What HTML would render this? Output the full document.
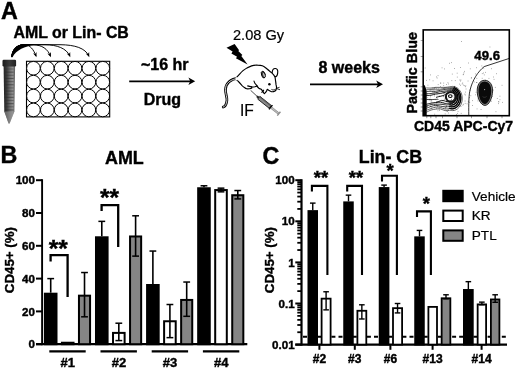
<!DOCTYPE html><html><head><meta charset="utf-8"><title>Figure</title><style>html,body{margin:0;padding:0;background:#fff}svg{display:block}text{font-family:"Liberation Sans",sans-serif;fill:#000;stroke:#000;stroke-width:0.2px}.b{font-weight:bold;stroke-width:0.4px}svg{will-change:transform;filter:blur(0.35px)}</style></head><body>
<svg width="520" height="369" viewBox="0 0 520 369">
<defs><linearGradient id="tg" x1="0" x2="1" y1="0" y2="0"><stop offset="0" stop-color="#222"/><stop offset="0.3" stop-color="#404040"/><stop offset="0.55" stop-color="#707070"/><stop offset="0.8" stop-color="#909090"/><stop offset="1" stop-color="#5a5a5a"/></linearGradient>
<linearGradient id="cg" x1="0" x2="1" y1="0" y2="0"><stop offset="0" stop-color="#1a1a1a"/><stop offset="0.5" stop-color="#3a3a3a"/><stop offset="1" stop-color="#222"/></linearGradient></defs>
<rect width="520" height="369" fill="#fff"/>
<text class="b" x="1" y="19.4" font-size="23.3">A</text>
<text class="b" x="0.5" y="163" font-size="23.3">B</text>
<text class="b" x="262.5" y="163.5" font-size="23.3">C</text>
<text class="b" x="13.5" y="37.8" font-size="15.9">AML or Lin- CB</text>
<g>
<path d="M3.6,66 L15.1,66 L14.4,111.5 L9.6,123.6 L8.6,123.6 L4.3,111.5 Z" fill="url(#tg)"/>
<path d="M4.3,111.5 L14.4,111.5 L9.6,123.6 L8.6,123.6 Z" fill="#999" opacity="0.55"/>
<line x1="5.2" x2="13.6" y1="69.00" y2="69.00" stroke="#2a2a2a" stroke-width="1.1" opacity="0.4"/>
<line x1="5.2" x2="13.6" y1="72.15" y2="72.15" stroke="#2a2a2a" stroke-width="1.1" opacity="0.55"/>
<line x1="5.2" x2="13.6" y1="75.30" y2="75.30" stroke="#2a2a2a" stroke-width="1.1" opacity="0.4"/>
<line x1="5.2" x2="13.6" y1="78.45" y2="78.45" stroke="#2a2a2a" stroke-width="1.1" opacity="0.55"/>
<line x1="5.2" x2="13.6" y1="81.60" y2="81.60" stroke="#2a2a2a" stroke-width="1.1" opacity="0.4"/>
<line x1="5.2" x2="13.6" y1="84.75" y2="84.75" stroke="#2a2a2a" stroke-width="1.1" opacity="0.55"/>
<line x1="5.2" x2="13.6" y1="87.90" y2="87.90" stroke="#2a2a2a" stroke-width="1.1" opacity="0.4"/>
<line x1="5.2" x2="13.6" y1="91.05" y2="91.05" stroke="#2a2a2a" stroke-width="1.1" opacity="0.55"/>
<line x1="5.2" x2="13.6" y1="94.20" y2="94.20" stroke="#2a2a2a" stroke-width="1.1" opacity="0.4"/>
<line x1="5.2" x2="13.6" y1="97.35" y2="97.35" stroke="#2a2a2a" stroke-width="1.1" opacity="0.55"/>
<line x1="5.2" x2="13.6" y1="100.50" y2="100.50" stroke="#2a2a2a" stroke-width="1.1" opacity="0.4"/>
<line x1="5.2" x2="13.6" y1="103.65" y2="103.65" stroke="#2a2a2a" stroke-width="1.1" opacity="0.55"/>
<line x1="5.2" x2="13.6" y1="106.80" y2="106.80" stroke="#2a2a2a" stroke-width="1.1" opacity="0.4"/>
<line x1="5.2" x2="13.6" y1="109.95" y2="109.95" stroke="#2a2a2a" stroke-width="1.1" opacity="0.55"/>
<rect x="2.5" y="59.8" width="13.6" height="6.6" rx="1.2" fill="url(#cg)"/>
</g>
<rect x="26.5" y="61.3" width="83.2" height="55.6" fill="#fff" stroke="#000" stroke-width="1.1"/>
<circle cx="33.43" cy="68.25" r="6.83" fill="#fff" stroke="#000" stroke-width="1"/>
<circle cx="47.30" cy="68.25" r="6.83" fill="#fff" stroke="#000" stroke-width="1"/>
<circle cx="61.17" cy="68.25" r="6.83" fill="#fff" stroke="#000" stroke-width="1"/>
<circle cx="75.03" cy="68.25" r="6.83" fill="#fff" stroke="#000" stroke-width="1"/>
<circle cx="88.90" cy="68.25" r="6.83" fill="#fff" stroke="#000" stroke-width="1"/>
<circle cx="102.77" cy="68.25" r="6.83" fill="#fff" stroke="#000" stroke-width="1"/>
<circle cx="33.43" cy="82.15" r="6.83" fill="#fff" stroke="#000" stroke-width="1"/>
<circle cx="47.30" cy="82.15" r="6.83" fill="#fff" stroke="#000" stroke-width="1"/>
<circle cx="61.17" cy="82.15" r="6.83" fill="#fff" stroke="#000" stroke-width="1"/>
<circle cx="75.03" cy="82.15" r="6.83" fill="#fff" stroke="#000" stroke-width="1"/>
<circle cx="88.90" cy="82.15" r="6.83" fill="#fff" stroke="#000" stroke-width="1"/>
<circle cx="102.77" cy="82.15" r="6.83" fill="#fff" stroke="#000" stroke-width="1"/>
<circle cx="33.43" cy="96.05" r="6.83" fill="#fff" stroke="#000" stroke-width="1"/>
<circle cx="47.30" cy="96.05" r="6.83" fill="#fff" stroke="#000" stroke-width="1"/>
<circle cx="61.17" cy="96.05" r="6.83" fill="#fff" stroke="#000" stroke-width="1"/>
<circle cx="75.03" cy="96.05" r="6.83" fill="#fff" stroke="#000" stroke-width="1"/>
<circle cx="88.90" cy="96.05" r="6.83" fill="#fff" stroke="#000" stroke-width="1"/>
<circle cx="102.77" cy="96.05" r="6.83" fill="#fff" stroke="#000" stroke-width="1"/>
<circle cx="33.43" cy="109.95" r="6.83" fill="#fff" stroke="#000" stroke-width="1"/>
<circle cx="47.30" cy="109.95" r="6.83" fill="#fff" stroke="#000" stroke-width="1"/>
<circle cx="61.17" cy="109.95" r="6.83" fill="#fff" stroke="#000" stroke-width="1"/>
<circle cx="75.03" cy="109.95" r="6.83" fill="#fff" stroke="#000" stroke-width="1"/>
<circle cx="88.90" cy="109.95" r="6.83" fill="#fff" stroke="#000" stroke-width="1"/>
<circle cx="102.77" cy="109.95" r="6.83" fill="#fff" stroke="#000" stroke-width="1"/>
<path d="M11.7,56.9 C12.6,50 16,44.9 24,44.7 L25,44.7 C30,44.9 33.6,49.5 36,56" fill="none" stroke="#000" stroke-width="0.95"/>
<path d="M36.45,57.22 L33.01,53.37 L35.24,53.94 L36.57,52.06 Z" fill="#000"/>
<path d="M11.7,56.9 C12.6,50 16,44.9 24,44.7 L33,44.7 C42,44.9 47.8,49 50.4,56" fill="none" stroke="#000" stroke-width="0.95"/>
<path d="M50.85,57.22 L47.40,53.38 L49.63,53.94 L50.96,52.06 Z" fill="#000"/>
<path d="M11.7,56.9 C12.6,50 16,44.9 24,44.7 L45,44.7 C57,44.8 66.6,48.4 69.8,56" fill="none" stroke="#000" stroke-width="0.95"/>
<path d="M70.30,57.20 L66.69,53.51 L68.95,53.97 L70.19,52.04 Z" fill="#000"/>
<path d="M11.7,56.9 C12.6,50 16,44.9 24,44.7 L60,44.7 C75,44.8 85.4,48.2 88.8,56" fill="none" stroke="#000" stroke-width="0.95"/>
<path d="M89.32,57.19 L85.66,53.55 L87.92,53.98 L89.14,52.03 Z" fill="#000"/>
<path d="M11.2,57.2 C12,49.8 15.6,44.5 24,44.25 L34,44.25 L34,45.1 C25,46.4 16.4,50 12.5,57.2 Z" fill="#000"/>
<text class="b" x="141" y="69.9" font-size="16">~16 hr</text>
<text class="b" x="143.8" y="104.6" font-size="16">Drug</text>
<line x1="129.2" x2="191" y1="81.3" y2="81.3" stroke="#000" stroke-width="1.8"/>
<path d="M195.2,81.3 L188.4,77.6 L190.2,81.3 L188.4,85 Z" fill="#000"/>
<text class="b" x="318.5" y="72.9" font-size="16">8 weeks</text>
<line x1="310" x2="379" y1="84.3" y2="84.3" stroke="#000" stroke-width="1.8"/>
<path d="M383,84.3 L376.2,80.6 L378,84.3 L376.2,88 Z" fill="#000"/>
<text x="233" y="39.9" font-size="14.6">2.08 Gy</text>
<text x="240" y="115.9" font-size="15.6">IF</text>
<polygon points="226.5,47.7 234.6,44.1 239.1,50.2 238.3,51 242.4,55 241.3,55.9 247.6,64.4 235.9,58.3 237.1,56.7 231.4,53.4 232.6,51.4" fill="#000"/>
<g fill="none" stroke="#000" stroke-width="1.15" stroke-linecap="round" stroke-linejoin="round">
<path d="M238.9,78.4 C236,78.3 231.5,79.6 228.75,82.1 C226.6,84.2 225.5,86 225.5,89.5 C225.3,94 227.4,97.5 226.9,100.6 C226.6,102.8 226,104.6 225.4,105.4 C224.8,106.3 224,106.8 223.2,107.1" stroke-width="2.7"/>
<path d="M238.9,78.4 C236,78.3 231.5,79.6 228.75,82.1 C226.6,84.2 225.5,86 225.5,89.5 C225.3,94 227.4,97.5 226.9,100.6 C226.6,102.8 226,104.6 225.4,105.4 C224.8,106.3 224,106.8 223.2,107.1" stroke="#fff" stroke-width="0.8"/>
<ellipse cx="274.9" cy="72.7" rx="2.8" ry="4.2" transform="rotate(8 274.9 72.7)" fill="#fff"/>
<path d="M236.2,77.6 C238.6,75.6 240.6,72.6 243,70.6 C245.2,68.8 248,67.2 251.6,65.9 C253.6,65.2 255.6,65 257.5,65.1 C259.3,65.1 261,65.2 262.3,65.7 C263.8,66.3 265,67.3 266.3,68.3 C267.4,69.2 268.2,70 269.2,70.7 C270,71.3 270.8,72 271.8,72.9 C273,74 274.5,75.6 275,77.1 C275.3,78.3 275.4,79.4 275.5,80.5 C275.7,81.8 275.9,83 276,84.4 C276.2,85.6 276.7,87 276.5,88.3 C276.3,89.6 275.6,90.8 274.6,91.3 C273.6,91.8 272.6,91.9 271.6,91.7 C270.6,91.4 269.6,90.8 268.7,90.3 L267.2,89.3 C266.9,90.4 266.4,91.4 265.8,92.2 C265.3,92.9 264.8,93.5 264.3,93.7 C263.6,93 263.2,92.2 262.8,91.3 C262.3,90.6 261.9,90 261.4,89.3 C260.5,89.1 259.7,88.8 258.9,88.3 C258.1,87.6 257.5,86.8 257,85.9 C256.3,86.3 255.6,86.6 254.8,86.8 C253.8,87 252.6,87 251.4,86.9 C251.8,87.4 251.9,87.9 251.6,88.3 C250,88.7 248.3,88.9 246.7,88.8 C246,88.6 245.4,88.3 244.8,87.8 C243.6,87 242.7,86.2 241.8,85.4 C240.8,84.2 239.9,83 238.9,82 C238,81 237,80.2 236.2,79.8 Z" fill="#fff"/>
<path d="M235.4,77.6 L237.4,77 L237.4,80.6 L235.4,80 Z" fill="#fff" stroke="none"/>
<path d="M254,81 C254.2,82 254.6,82.8 255,83.4 C255.8,84.3 256.4,85.2 257,85.9"/>
<path d="M247.7,85.9 C248.9,86.4 250.1,86.7 251.4,86.9"/>
<path d="M263.6,90.2 C263.2,91 262.6,91.8 261.9,92.3"/>
<path d="M271.8,89.6 C272.8,90.2 274.2,90 275.2,89.4" stroke-width="0.9"/>
<ellipse cx="263.3" cy="74.6" rx="1.8" ry="3.5" transform="rotate(-16 263.3 74.6)" fill="#444" stroke-width="0.9"/>
<ellipse cx="264" cy="75" rx="0.6" ry="2.1" transform="rotate(-16 264 75)" fill="#ddd" stroke="none"/>
<path d="M276.6,88.2 L279.2,87.4 M276.6,88.6 L279.6,89.6" stroke-width="0.8"/>
</g>
<circle cx="269.4" cy="84.3" r="1.25" fill="#000"/>
<g>
<line x1="250.6" y1="90.3" x2="257.2" y2="96.4" stroke="#000" stroke-width="0.7"/>
<g transform="translate(256.9,96.25) rotate(38.5)">
<rect x="0" y="-1.1" width="2.6" height="2.2" fill="#222"/>
<rect x="2.4" y="-1.75" width="14.6" height="3.5" fill="#8a8a8a" stroke="#111" stroke-width="0.8"/>
<rect x="2.4" y="-1.75" width="14.6" height="1.2" fill="#555" opacity="0.7"/>
<rect x="17" y="-2.7" width="1.4" height="5.4" fill="#000"/>
<rect x="18.4" y="-0.9" width="9" height="1.8" fill="#bbb" stroke="#555" stroke-width="0.4"/>
<rect x="27.4" y="-2.5" width="1.3" height="5" fill="#888"/>
</g></g>
<g>
<path d="M442.7,102.6h.7M443.1,93.5h.7M433.9,94.7h.7M460.5,101.7h.7M459.5,99.7h.7M451.1,99.0h.7M424.3,106.4h.7M452.6,102.5h.7M434.4,91.8h.7M450.0,96.5h.7M452.8,89.9h.7M450.0,101.3h.7M453.2,110.2h.7M437.9,88.9h.7M441.5,95.8h.7M454.2,99.7h.7M440.2,86.5h.7M439.2,110.4h.7M435.5,99.7h.7M451.5,80.6h.7M446.6,111.4h.7M444.6,88.0h.7M452.5,96.3h.7M427.0,106.1h.7M454.7,107.4h.7M464.7,101.0h.7M447.6,82.7h.7M454.0,90.3h.7M440.1,83.1h.7M433.4,91.2h.7M462.8,74.7h.7M427.0,99.6h.7M464.8,103.4h.7M450.6,88.9h.7M431.4,107.8h.7M460.3,98.7h.7M449.2,101.8h.7M466.7,103.8h.7M452.7,103.0h.7M425.6,111.1h.7M458.4,102.8h.7M456.9,77.1h.7M443.6,108.2h.7M453.2,95.3h.7M450.2,104.1h.7M447.6,109.6h.7M437.4,92.4h.7M459.5,97.3h.7M434.6,107.4h.7M465.1,92.1h.7M428.1,95.5h.7M444.1,93.7h.7M464.3,85.7h.7M462.4,83.0h.7M435.8,103.9h.7M460.7,106.4h.7M450.5,98.6h.7M448.0,103.3h.7M443.7,100.1h.7M453.4,97.0h.7M455.9,103.2h.7M472.1,100.6h.7M440.4,92.9h.7M445.8,107.2h.7M441.6,101.2h.7M469.9,68.8h.7M431.4,99.7h.7M451.2,99.6h.7M440.4,104.2h.7M449.7,91.3h.7M477.6,100.9h.7M438.8,95.9h.7M443.1,96.3h.7M459.1,84.1h.7M445.1,107.5h.7M457.1,113.4h.7M441.6,103.9h.7M460.2,67.5h.7M460.2,81.1h.7M454.9,80.6h.7M448.3,110.1h.7M444.1,99.1h.7M456.4,98.6h.7M444.8,113.9h.7M459.6,93.8h.7M481.7,84.4h.7M457.9,94.1h.7M447.7,104.8h.7M448.9,104.0h.7M426.1,80.4h.7M454.0,86.4h.7M432.7,80.8h.7M462.5,105.2h.7M465.1,86.7h.7M446.0,84.5h.7M456.0,114.5h.7M434.4,114.2h.7M458.8,95.0h.7M444.7,90.4h.7M451.2,101.5h.7M465.5,85.8h.7M460.8,113.4h.7M464.9,95.0h.7M436.3,108.2h.7M447.5,98.4h.7M464.5,94.1h.7M450.1,90.3h.7M445.9,106.2h.7M447.0,111.6h.7M445.2,108.4h.7M437.3,106.7h.7M430.0,96.9h.7M443.5,96.7h.7M438.3,99.6h.7M469.3,97.5h.7M452.9,108.0h.7M443.4,83.1h.7M438.8,108.8h.7M424.6,90.4h.7M459.1,105.7h.7M446.1,105.9h.7M448.2,84.0h.7M425.7,90.0h.7M458.0,90.8h.7M434.3,88.5h.7M426.1,95.7h.7M430.7,101.0h.7M437.7,75.6h.7M455.4,94.0h.7M449.8,92.0h.7M456.1,105.2h.7M454.7,100.6h.7M463.3,104.3h.7M451.9,74.1h.7M457.7,111.4h.7M442.1,91.8h.7M471.2,77.7h.7M433.9,104.6h.7M470.5,95.7h.7M453.3,106.9h.7M434.2,96.0h.7M449.8,106.1h.7M445.6,94.9h.7M432.8,93.1h.7M457.6,98.1h.7M434.9,87.7h.7M480.7,109.5h.7M454.3,68.5h.7M454.1,102.3h.7M467.9,101.7h.7M484.5,96.3h.7M469.4,102.4h.7M487.6,81.6h.7M495.6,111.7h.7M473.8,82.0h.7M487.3,92.2h.7M481.8,78.3h.7M502.0,102.4h.7M475.4,73.9h.7M498.6,101.9h.7M499.6,99.7h.7M478.0,93.1h.7M467.7,81.0h.7M484.5,96.3h.7M479.2,88.5h.7M488.7,94.5h.7M490.1,92.5h.7M482.4,99.5h.7M485.4,80.1h.7M480.0,90.0h.7M484.1,91.9h.7M485.0,92.1h.7M483.9,74.9h.7M488.4,102.6h.7M488.5,87.7h.7M488.6,78.4h.7M469.8,90.7h.7M477.6,98.9h.7M476.3,58.5h.7M476.7,108.9h.7M481.9,73.6h.7M478.9,96.3h.7M489.0,92.1h.7M496.9,98.5h.7M484.8,97.2h.7M498.2,101.7h.7M493.2,77.0h.7M483.8,98.8h.7M482.6,102.8h.7M489.8,100.9h.7M494.9,87.4h.7M482.3,100.5h.7M492.8,90.1h.7M475.7,92.3h.7M487.9,103.6h.7M491.3,90.3h.7M491.8,96.5h.7M486.6,90.7h.7M483.1,98.2h.7M476.6,82.5h.7M485.0,72.4h.7M481.5,65.9h.7M479.5,96.8h.7M489.5,89.3h.7M483.1,73.0h.7M499.6,96.2h.7M493.7,79.4h.7M483.5,68.2h.7M491.2,101.2h.7M469.8,89.4h.7M478.9,56.8h.7M424.8,68.0h.7M451.2,62.6h.7M465.7,89.0h.7M478.9,96.2h.7M498.1,103.6h.7M436.1,76.9h.7M441.7,67.8h.7M463.2,85.1h.7M475.8,59.6h.7M437.8,84.6h.7M460.6,80.0h.7M463.6,72.8h.7M480.4,90.7h.7M463.1,74.2h.7M461.2,41.5h.7M443.4,85.6h.7M431.9,88.2h.7M468.2,63.0h.7M459.5,80.0h.7M475.1,94.8h.7M464.2,71.4h.7M461.8,84.0h.7M481.2,89.7h.7M449.1,63.3h.7M456.8,73.2h.7M440.5,83.1h.7M454.2,86.7h.7M476.5,78.4h.7M489.2,86.9h.7M489.6,47.0h.7M448.5,89.0h.7M472.1,105.5h.7M481.9,100.2h.7M476.2,82.5h.7M476.2,67.7h.7M491.0,68.7h.7M460.1,85.3h.7M490.6,85.4h.7M447.2,89.1h.7M477.8,96.4h.7M448.0,113.0h.7M501.7,85.3h.7M470.9,78.1h.7M496.1,73.7h.7M433.4,88.3h.7M426.5,105.1h.7M436.7,94.9h.7M426.6,106.4h.7M429.8,99.3h.7M437.6,110.8h.7M430.0,106.0h.7M426.8,94.4h.7M436.8,78.0h.7M435.9,88.6h.7M429.7,90.6h.7M429.4,79.8h.7M430.1,74.9h.7M429.6,99.3h.7M432.3,91.8h.7M425.5,97.2h.7M433.8,93.4h.7M427.6,85.2h.7M425.3,90.1h.7M431.5,102.2h.7M426.5,95.2h.7M444.0,68.9h.7M427.4,97.4h.7M430.8,100.7h.7M428.8,100.1h.7" stroke="#000" stroke-width="0.75" opacity="0.6" fill="none"/>
<path d="M423.2,84.8 L424.4,85 C425.8,87 426.59999999999997,90 426.7,93 L426.7,115.7 L423.2,115.7 Z" fill="#000"/>
<g fill="none" stroke="#000" stroke-linejoin="round">
<path d="M426.30,87.90 C427.08,87.93 429.44,88.15 431.01,88.06 C432.58,87.97 434.15,87.47 435.72,87.36 C437.28,87.25 438.85,87.40 440.42,87.40 C441.99,87.40 443.56,87.48 445.13,87.38 C446.70,87.28 448.63,86.98 449.84,86.81 C451.05,86.65 451.55,86.40 452.40,86.40 C453.25,86.40 454.14,86.54 454.96,86.81 C455.79,87.08 456.61,87.50 457.35,88.02 C458.09,88.54 458.80,89.21 459.40,89.94 C460.00,90.68 460.55,91.55 460.97,92.45 C461.40,93.35 461.74,94.36 461.96,95.37 C462.18,96.38 462.30,97.46 462.30,98.50 C462.30,99.54 462.18,100.62 461.96,101.63 C461.74,102.64 461.40,103.65 460.97,104.55 C460.55,105.45 460.00,106.32 459.40,107.06 C458.80,107.79 458.09,108.46 457.35,108.98 C456.61,109.50 455.79,109.92 454.96,110.19 C454.14,110.46 453.25,110.60 452.40,110.60 C451.55,110.60 451.05,110.18 449.84,110.19 C448.63,110.19 446.70,110.84 445.13,110.63 C443.56,110.42 441.99,109.18 440.42,108.93 C438.85,108.68 437.28,108.92 435.72,109.11 C434.15,109.30 432.58,109.52 431.01,110.05 C429.44,110.58 427.08,111.92 426.30,112.30" stroke-width="0.6"/>
<path d="M426.30,89.80 C427.08,89.74 429.44,89.54 431.01,89.44 C432.58,89.34 434.15,89.23 435.72,89.19 C437.29,89.14 438.86,89.34 440.43,89.17 C442.00,89.01 443.57,88.42 445.14,88.19 C446.71,87.96 448.69,87.94 449.85,87.81 C451.01,87.69 451.35,87.45 452.10,87.45 C452.85,87.45 453.63,87.58 454.35,87.81 C455.08,88.05 455.80,88.42 456.45,88.88 C457.10,89.34 457.72,89.92 458.25,90.57 C458.78,91.22 459.26,91.98 459.63,92.77 C460.01,93.57 460.31,94.46 460.50,95.34 C460.70,96.23 460.80,97.18 460.80,98.10 C460.80,99.02 460.70,99.97 460.50,100.86 C460.31,101.74 460.01,102.63 459.63,103.42 C459.26,104.22 458.78,104.98 458.25,105.63 C457.72,106.28 457.10,106.86 456.45,107.32 C455.80,107.78 455.08,108.15 454.35,108.39 C453.63,108.62 452.85,108.75 452.10,108.75 C451.35,108.75 451.01,108.33 449.85,108.39 C448.69,108.44 446.71,109.23 445.14,109.06 C443.57,108.90 442.00,107.75 440.43,107.42 C438.86,107.08 437.29,106.84 435.72,107.03 C434.15,107.23 432.58,108.03 431.01,108.58 C429.44,109.12 427.08,110.01 426.30,110.30" stroke-width="0.6"/>
<path d="M453.61,87.61 C453.85,87.69 454.60,87.88 455.08,88.09 C455.55,88.30 456.01,88.57 456.45,88.88 C456.89,89.19 457.31,89.55 457.69,89.94 C458.08,90.34 458.44,90.78 458.76,91.25 C459.09,91.73 459.38,92.24 459.63,92.77 C459.89,93.31 460.10,93.88 460.28,94.46 C460.45,95.04 460.58,95.64 460.67,96.25 C460.76,96.86 460.80,97.48 460.80,98.10 C460.80,98.72 460.76,99.34 460.67,99.95 C460.58,100.56 460.45,101.16 460.28,101.74 C460.10,102.32 459.89,102.89 459.63,103.42 C459.38,103.96 459.09,104.47 458.76,104.95 C458.44,105.42 458.08,105.86 457.69,106.26 C457.31,106.65 456.89,107.01 456.45,107.32 C456.01,107.63 455.55,107.90 455.08,108.11 C454.60,108.32 454.11,108.48 453.61,108.59 C453.11,108.70 452.60,108.75 452.10,108.75 C451.60,108.75 451.09,108.70 450.59,108.59 C450.09,108.48 449.37,108.19 449.12,108.11" stroke-width="1.25"/>
<path d="M426.30,91.70 C427.09,91.62 429.44,91.30 431.01,91.23 C432.58,91.16 434.15,91.42 435.72,91.26 C437.29,91.10 438.86,90.58 440.44,90.28 C442.01,89.97 443.58,89.67 445.15,89.43 C446.72,89.18 448.75,88.97 449.86,88.81 C450.97,88.66 451.15,88.50 451.80,88.50 C452.45,88.50 453.12,88.61 453.74,88.81 C454.37,89.02 454.99,89.34 455.55,89.73 C456.11,90.13 456.65,90.63 457.10,91.19 C457.56,91.76 457.97,92.41 458.30,93.10 C458.62,93.79 458.88,94.55 459.04,95.32 C459.21,96.09 459.30,96.91 459.30,97.70 C459.30,98.49 459.21,99.31 459.04,100.08 C458.88,100.85 458.62,101.61 458.30,102.30 C457.97,102.99 457.56,103.64 457.10,104.21 C456.65,104.77 456.11,105.27 455.55,105.67 C454.99,106.06 454.37,106.38 453.74,106.59 C453.12,106.79 452.45,106.90 451.80,106.90 C451.15,106.90 450.97,106.60 449.86,106.59 C448.75,106.58 446.72,106.91 445.15,106.84 C443.58,106.76 442.01,106.38 440.44,106.13 C438.86,105.89 437.29,105.34 435.72,105.39 C434.15,105.44 432.58,105.96 431.01,106.44 C429.44,106.93 427.09,107.99 426.30,108.30" stroke-width="0.75"/>
<path d="M453.10,88.64 C453.31,88.71 453.96,88.87 454.37,89.05 C454.77,89.24 455.17,89.47 455.55,89.73 C455.93,90.00 456.29,90.31 456.62,90.65 C456.95,90.99 457.27,91.38 457.55,91.79 C457.82,92.19 458.08,92.64 458.30,93.10 C458.51,93.56 458.70,94.05 458.85,94.55 C459.00,95.05 459.11,95.58 459.19,96.10 C459.26,96.63 459.30,97.17 459.30,97.70 C459.30,98.23 459.26,98.77 459.19,99.30 C459.11,99.82 459.00,100.35 458.85,100.85 C458.70,101.35 458.51,101.84 458.30,102.30 C458.08,102.76 457.82,103.21 457.55,103.61 C457.27,104.02 456.95,104.41 456.62,104.75 C456.29,105.09 455.93,105.40 455.55,105.67 C455.17,105.93 454.77,106.16 454.37,106.35 C453.96,106.53 453.53,106.67 453.10,106.76 C452.67,106.85 452.23,106.90 451.80,106.90 C451.37,106.90 450.93,106.85 450.50,106.76 C450.07,106.67 449.45,106.41 449.23,106.35" stroke-width="1.25"/>
<path d="M426.30,93.60 C427.09,93.58 429.44,93.65 431.01,93.50 C432.59,93.35 434.16,93.00 435.73,92.68 C437.30,92.36 438.87,91.82 440.44,91.56 C442.01,91.31 443.58,91.42 445.16,91.13 C446.73,90.84 448.81,90.08 449.87,89.81 C450.93,89.55 450.96,89.55 451.50,89.55 C452.04,89.55 452.61,89.64 453.13,89.81 C453.66,89.99 454.18,90.25 454.65,90.59 C455.12,90.92 455.57,91.35 455.95,91.82 C456.34,92.29 456.68,92.85 456.96,93.42 C457.23,94.00 457.44,94.65 457.59,95.29 C457.73,95.94 457.80,96.63 457.80,97.30 C457.80,97.97 457.73,98.66 457.59,99.31 C457.44,99.95 457.23,100.60 456.96,101.17 C456.68,101.75 456.34,102.31 455.95,102.78 C455.57,103.25 455.12,103.68 454.65,104.01 C454.18,104.35 453.66,104.61 453.13,104.79 C452.61,104.96 452.04,105.05 451.50,105.05 C450.96,105.05 450.93,104.82 449.87,104.79 C448.81,104.75 446.73,104.92 445.16,104.82 C443.58,104.72 442.01,104.30 440.44,104.19 C438.87,104.09 437.30,104.15 435.73,104.21 C434.16,104.26 432.59,104.15 431.01,104.50 C429.44,104.85 427.09,106.00 426.30,106.30" stroke-width="0.75"/>
<path d="M452.59,89.67 C452.77,89.73 453.31,89.86 453.65,90.02 C454.00,90.17 454.33,90.36 454.65,90.59 C454.97,90.81 455.27,91.07 455.55,91.36 C455.83,91.65 456.09,91.97 456.33,92.32 C456.56,92.66 456.77,93.04 456.96,93.42 C457.14,93.81 457.30,94.23 457.42,94.65 C457.54,95.07 457.64,95.51 457.70,95.95 C457.77,96.40 457.80,96.85 457.80,97.30 C457.80,97.75 457.77,98.20 457.70,98.65 C457.64,99.09 457.54,99.53 457.42,99.95 C457.30,100.37 457.14,100.79 456.96,101.17 C456.77,101.56 456.56,101.94 456.33,102.28 C456.09,102.63 455.83,102.95 455.55,103.24 C455.27,103.53 454.97,103.79 454.65,104.01 C454.33,104.24 454.00,104.43 453.65,104.58 C453.31,104.74 452.95,104.85 452.59,104.93 C452.23,105.01 451.86,105.05 451.50,105.05 C451.14,105.05 450.77,105.01 450.41,104.93 C450.05,104.85 449.52,104.64 449.35,104.58" stroke-width="1.25"/>
<path d="M426.30,95.50 C427.09,95.46 429.44,95.48 431.02,95.23 C432.59,94.98 434.16,94.31 435.73,94.01 C437.30,93.72 438.88,93.76 440.45,93.48 C442.02,93.19 443.59,92.74 445.16,92.29 C446.74,91.85 448.87,91.10 449.88,90.81 C450.89,90.53 450.76,90.60 451.20,90.60 C451.64,90.60 452.09,90.67 452.52,90.81 C452.94,90.96 453.37,91.17 453.75,91.44 C454.13,91.72 454.50,92.06 454.81,92.45 C455.12,92.83 455.40,93.28 455.62,93.75 C455.84,94.22 456.01,94.74 456.13,95.27 C456.24,95.79 456.30,96.36 456.30,96.90 C456.30,97.44 456.24,98.01 456.13,98.53 C456.01,99.06 455.84,99.58 455.62,100.05 C455.40,100.52 455.12,100.97 454.81,101.35 C454.50,101.74 454.13,102.08 453.75,102.36 C453.37,102.63 452.94,102.84 452.52,102.99 C452.09,103.13 451.64,103.20 451.20,103.20 C450.76,103.20 450.89,102.95 449.88,102.99 C448.87,103.02 446.74,103.54 445.16,103.41 C443.59,103.28 442.02,102.35 440.45,102.19 C438.88,102.03 437.30,102.31 435.73,102.47 C434.16,102.63 432.59,102.87 431.02,103.17 C429.44,103.48 427.09,104.11 426.30,104.30" stroke-width="0.9"/>
<path d="M452.09,90.70 C452.23,90.74 452.67,90.86 452.94,90.98 C453.22,91.10 453.49,91.26 453.75,91.44 C454.01,91.63 454.25,91.84 454.48,92.07 C454.70,92.31 454.92,92.57 455.11,92.85 C455.30,93.13 455.47,93.43 455.62,93.75 C455.76,94.07 455.89,94.40 455.99,94.75 C456.09,95.09 456.17,95.45 456.22,95.81 C456.27,96.17 456.30,96.54 456.30,96.90 C456.30,97.26 456.27,97.63 456.22,97.99 C456.17,98.35 456.09,98.71 455.99,99.05 C455.89,99.40 455.76,99.73 455.62,100.05 C455.47,100.37 455.30,100.67 455.11,100.95 C454.92,101.23 454.70,101.49 454.48,101.73 C454.25,101.96 454.01,102.17 453.75,102.36 C453.49,102.54 453.22,102.70 452.94,102.82 C452.67,102.94 452.38,103.04 452.09,103.10 C451.79,103.17 451.50,103.20 451.20,103.20 C450.90,103.20 450.61,103.17 450.31,103.10 C450.02,103.04 449.60,102.87 449.46,102.82" stroke-width="1.25"/>
<path d="M436.00,97.40 C436.46,97.27 437.85,96.85 438.78,96.62 C439.70,96.39 440.63,96.29 441.56,96.03 C442.48,95.76 443.41,95.52 444.33,95.04 C445.26,94.56 446.19,93.66 447.11,93.13 C448.04,92.59 449.26,92.06 449.89,91.82 C450.52,91.57 450.56,91.65 450.90,91.65 C451.24,91.65 451.58,91.71 451.91,91.82 C452.23,91.92 452.56,92.09 452.85,92.30 C453.14,92.51 453.42,92.77 453.66,93.07 C453.90,93.37 454.11,93.71 454.28,94.08 C454.45,94.44 454.58,94.84 454.67,95.24 C454.75,95.65 454.80,96.08 454.80,96.50 C454.80,96.92 454.75,97.35 454.67,97.76 C454.58,98.16 454.45,98.56 454.28,98.92 C454.11,99.29 453.90,99.63 453.66,99.93 C453.42,100.23 453.14,100.49 452.85,100.70 C452.56,100.91 452.23,101.08 451.91,101.18 C451.58,101.29 451.24,101.35 450.90,101.35 C450.56,101.35 450.52,101.14 449.89,101.18 C449.26,101.23 448.04,101.69 447.11,101.64 C446.19,101.58 445.26,101.07 444.33,100.86 C443.41,100.66 442.48,100.31 441.56,100.42 C440.63,100.52 439.70,101.18 438.78,101.49 C437.85,101.81 436.46,102.17 436.00,102.30" stroke-width="0.9"/>
<path d="M426.3,99.4 C430,99.8 434,99.6 438,99.2" stroke-width="0.7"/>
<ellipse cx="451" cy="96.9" rx="5.1" ry="4.7" stroke-width="2.1" stroke="#151515"/>
<ellipse cx="450.4" cy="96.2" rx="3.3" ry="2.8" stroke="none" fill="#fff"/>
<ellipse cx="450.3" cy="96.1" rx="1.8" ry="1.4" stroke-width="1.1" fill="#fff"/>
</g>
<path d="M484.6,80.3 C489.8,80.3 492.8,85 492.6,91 C492.4,98 489,105.4 485,105.4 C480.8,105.4 477.4,98.4 477.2,91.4 C477,85 479.8,80.3 484.6,80.3 Z" fill="#8a8a8a" stroke="#000" stroke-width="0.8"/>
<path d="M484.6,81.5 C488.9,81.5 491.5,85.6 491.3,91 C491.1,97.4 488.3,104 485,104 C481.5,104 478.7,97.6 478.5,91.4 C478.3,85.6 480.6,81.5 484.6,81.5 Z" fill="#0a0a0a"/>
<circle cx="484.6" cy="89.6" r="0.6" fill="#aaa"/>
<path d="M482.6,96.6 C483.6,97.6 485.6,97.6 486.6,96.4" stroke="#555" stroke-width="0.5" fill="none"/>
<path d="M468.8,115.7 C468.6,104 468.8,94 470.2,89.6 C472.5,80 478,71.5 484.2,66.6 L509.3,58.4" fill="none" stroke="#000" stroke-width="0.8"/>
<rect x="423.2" y="29.9" width="86.10000000000002" height="85.80000000000001" fill="none" stroke="#000" stroke-width="1.6"/>
<line x1="420.7" x2="423.2" y1="40.3" y2="40.3" stroke="#000" stroke-width="0.6" opacity="0.7"/>
<line x1="420.7" x2="423.2" y1="56.6" y2="56.6" stroke="#000" stroke-width="0.6" opacity="0.7"/>
<line x1="420.7" x2="423.2" y1="71.8" y2="71.8" stroke="#000" stroke-width="0.6" opacity="0.7"/>
<line x1="420.7" x2="423.2" y1="86.8" y2="86.8" stroke="#000" stroke-width="0.6" opacity="0.7"/>
<line x1="420.7" x2="423.2" y1="91" y2="91" stroke="#000" stroke-width="0.6" opacity="0.7"/>
<line x1="420.7" x2="423.2" y1="95" y2="95" stroke="#000" stroke-width="0.6" opacity="0.7"/>
<line x1="420.7" x2="423.2" y1="99" y2="99" stroke="#000" stroke-width="0.6" opacity="0.7"/>
<line x1="420.7" x2="423.2" y1="103" y2="103" stroke="#000" stroke-width="0.6" opacity="0.7"/>
<line x1="420.7" x2="423.2" y1="107" y2="107" stroke="#000" stroke-width="0.6" opacity="0.7"/>
<line x1="420.7" x2="423.2" y1="111" y2="111" stroke="#000" stroke-width="0.6" opacity="0.7"/>
<line x1="426.8" x2="426.8" y1="115.7" y2="118.2" stroke="#000" stroke-width="0.6" opacity="0.7"/>
<line x1="430.8" x2="430.8" y1="115.7" y2="118.2" stroke="#000" stroke-width="0.6" opacity="0.7"/>
<line x1="436" x2="436" y1="115.7" y2="118.2" stroke="#000" stroke-width="0.6" opacity="0.7"/>
<line x1="442.6" x2="442.6" y1="115.7" y2="118.2" stroke="#000" stroke-width="0.6" opacity="0.7"/>
<line x1="457" x2="457" y1="115.7" y2="118.2" stroke="#000" stroke-width="0.6" opacity="0.7"/>
<line x1="471.6" x2="471.6" y1="115.7" y2="118.2" stroke="#000" stroke-width="0.6" opacity="0.7"/>
<line x1="487" x2="487" y1="115.7" y2="118.2" stroke="#000" stroke-width="0.6" opacity="0.7"/>
<line x1="502" x2="502" y1="115.7" y2="118.2" stroke="#000" stroke-width="0.6" opacity="0.7"/>
</g>
<text class="b" x="474.3" y="59.9" font-size="13.2">49.6</text>
<text class="b" x="414" y="130.6" font-size="14">CD45 APC-Cy7</text>
<text class="b" transform="translate(417.4,113.6) rotate(-90)" font-size="14.4">Pacific Blue</text>
<text class="b" x="105" y="163.7" font-size="17.9">AML</text>
<text class="b" transform="translate(13.6,293.2) rotate(-90)" font-size="13.3">CD45+ (%)</text>
<line x1="42.1" x2="42.1" y1="179.2" y2="345.2" stroke="#000" stroke-width="1.9"/>
<line x1="36" x2="247.3" y1="344.2" y2="344.2" stroke="#000" stroke-width="2.2"/>
<line x1="36" x2="42.1" y1="344.20" y2="344.20" stroke="#000" stroke-width="2"/>
<text class="b" x="35" y="348.30" font-size="11.6" text-anchor="end">0</text>
<line x1="36" x2="42.1" y1="311.40" y2="311.40" stroke="#000" stroke-width="2"/>
<text class="b" x="35" y="315.50" font-size="11.6" text-anchor="end">20</text>
<line x1="36" x2="42.1" y1="278.60" y2="278.60" stroke="#000" stroke-width="2"/>
<text class="b" x="35" y="282.70" font-size="11.6" text-anchor="end">40</text>
<line x1="36" x2="42.1" y1="245.80" y2="245.80" stroke="#000" stroke-width="2"/>
<text class="b" x="35" y="249.90" font-size="11.6" text-anchor="end">60</text>
<line x1="36" x2="42.1" y1="213.00" y2="213.00" stroke="#000" stroke-width="2"/>
<text class="b" x="35" y="217.10" font-size="11.6" text-anchor="end">80</text>
<line x1="36" x2="42.1" y1="180.20" y2="180.20" stroke="#000" stroke-width="2"/>
<text class="b" x="35" y="184.30" font-size="11.6" text-anchor="end">100</text>
<rect x="44.90" y="293.70" width="11.60" height="50.50" fill="#000" stroke="#000" stroke-width="2"/>
<line x1="50.70" x2="50.70" y1="278.60" y2="292.70" stroke="#000" stroke-width="1.6"/>
<line x1="47.30" x2="54.10" y1="278.60" y2="278.60" stroke="#000" stroke-width="1.5"/>
<rect x="61.93" y="342.74" width="11.60" height="1.46" fill="#fff" stroke="#000" stroke-width="2"/>
<rect x="78.96" y="295.67" width="11.10" height="48.53" fill="#858585" stroke="#000" stroke-width="2"/>
<line x1="84.51" x2="84.51" y1="272.53" y2="316.81" stroke="#000" stroke-width="1.6"/>
<line x1="81.11" x2="87.91" y1="272.53" y2="272.53" stroke="#000" stroke-width="1.5"/>
<line x1="81.11" x2="87.91" y1="316.81" y2="316.81" stroke="#000" stroke-width="1.5"/>
<rect x="95.99" y="237.29" width="11.60" height="106.91" fill="#000" stroke="#000" stroke-width="2"/>
<line x1="101.79" x2="101.79" y1="221.36" y2="236.29" stroke="#000" stroke-width="1.6"/>
<line x1="98.39" x2="105.19" y1="221.36" y2="221.36" stroke="#000" stroke-width="1.5"/>
<rect x="113.02" y="332.90" width="11.60" height="11.30" fill="#fff" stroke="#000" stroke-width="2"/>
<line x1="118.82" x2="118.82" y1="323.21" y2="340.59" stroke="#000" stroke-width="1.6"/>
<line x1="115.42" x2="122.22" y1="323.21" y2="323.21" stroke="#000" stroke-width="1.5"/>
<line x1="115.42" x2="122.22" y1="340.59" y2="340.59" stroke="#000" stroke-width="1.5"/>
<rect x="130.05" y="236.47" width="11.10" height="107.73" fill="#858585" stroke="#000" stroke-width="2"/>
<line x1="135.60" x2="135.60" y1="215.79" y2="256.13" stroke="#000" stroke-width="1.6"/>
<line x1="132.20" x2="139.00" y1="215.79" y2="215.79" stroke="#000" stroke-width="1.5"/>
<line x1="132.20" x2="139.00" y1="256.13" y2="256.13" stroke="#000" stroke-width="1.5"/>
<rect x="147.08" y="285.01" width="11.60" height="59.19" fill="#000" stroke="#000" stroke-width="2"/>
<line x1="152.88" x2="152.88" y1="251.05" y2="284.01" stroke="#000" stroke-width="1.6"/>
<line x1="149.48" x2="156.28" y1="251.05" y2="251.05" stroke="#000" stroke-width="1.5"/>
<rect x="164.11" y="321.26" width="11.60" height="22.94" fill="#fff" stroke="#000" stroke-width="2"/>
<line x1="169.91" x2="169.91" y1="304.51" y2="337.64" stroke="#000" stroke-width="1.6"/>
<line x1="166.51" x2="173.31" y1="304.51" y2="304.51" stroke="#000" stroke-width="1.5"/>
<line x1="166.51" x2="173.31" y1="337.64" y2="337.64" stroke="#000" stroke-width="1.5"/>
<rect x="181.14" y="299.94" width="11.10" height="44.26" fill="#858585" stroke="#000" stroke-width="2"/>
<line x1="186.69" x2="186.69" y1="282.04" y2="316.32" stroke="#000" stroke-width="1.6"/>
<line x1="183.29" x2="190.09" y1="282.04" y2="282.04" stroke="#000" stroke-width="1.5"/>
<line x1="183.29" x2="190.09" y1="316.32" y2="316.32" stroke="#000" stroke-width="1.5"/>
<rect x="198.17" y="188.25" width="11.60" height="155.95" fill="#000" stroke="#000" stroke-width="2"/>
<line x1="203.97" x2="203.97" y1="185.78" y2="187.25" stroke="#000" stroke-width="1.6"/>
<line x1="200.57" x2="207.37" y1="185.78" y2="185.78" stroke="#000" stroke-width="1.5"/>
<rect x="215.20" y="190.06" width="11.60" height="154.14" fill="#fff" stroke="#000" stroke-width="2"/>
<line x1="221.00" x2="221.00" y1="188.15" y2="191.84" stroke="#000" stroke-width="1.6"/>
<line x1="217.60" x2="224.40" y1="188.15" y2="188.15" stroke="#000" stroke-width="1.5"/>
<line x1="217.60" x2="224.40" y1="191.84" y2="191.84" stroke="#000" stroke-width="1.5"/>
<rect x="232.23" y="195.22" width="11.10" height="148.98" fill="#858585" stroke="#000" stroke-width="2"/>
<line x1="237.78" x2="237.78" y1="190.53" y2="198.90" stroke="#000" stroke-width="1.6"/>
<line x1="234.38" x2="241.18" y1="190.53" y2="190.53" stroke="#000" stroke-width="1.5"/>
<line x1="234.38" x2="241.18" y1="198.90" y2="198.90" stroke="#000" stroke-width="1.5"/>
<line x1="49.30" x2="85.70" y1="351.4" y2="351.4" stroke="#000" stroke-width="2.3"/>
<text class="b" x="67.70" y="367.2" font-size="13" text-anchor="middle">#1</text>
<line x1="100.50" x2="136.90" y1="351.4" y2="351.4" stroke="#000" stroke-width="2.3"/>
<text class="b" x="118.90" y="367.2" font-size="13" text-anchor="middle">#2</text>
<line x1="151.70" x2="188.10" y1="351.4" y2="351.4" stroke="#000" stroke-width="2.3"/>
<text class="b" x="170.10" y="367.2" font-size="13" text-anchor="middle">#3</text>
<line x1="202.90" x2="239.30" y1="351.4" y2="351.4" stroke="#000" stroke-width="2.3"/>
<text class="b" x="221.30" y="367.2" font-size="13" text-anchor="middle">#4</text>
<path d="M50.6,261.5 V255.2 H67.6 V297" fill="none" stroke="#000" stroke-width="2.3"/>
<path d="M101.6,211 V205.2 H118.2 V247" fill="none" stroke="#000" stroke-width="2.3"/>
<text class="b" x="58.2" y="256.8" font-size="24.5" text-anchor="middle">**</text>
<text class="b" x="109.6" y="205.8" font-size="24.5" text-anchor="middle">**</text>
<text class="b" x="358.8" y="163" font-size="17.8">Lin- CB</text>
<text class="b" transform="translate(273.6,293.2) rotate(-90)" font-size="13.3">CD45+ (%)</text>
<line x1="303" x2="506" y1="336.8" y2="336.8" stroke="#000" stroke-width="1.9" stroke-dasharray="4 3.1"/>
<line x1="301.5" x2="301.5" y1="179.20" y2="345.6" stroke="#000" stroke-width="2.2"/>
<line x1="295.3" x2="507" y1="344.6" y2="344.6" stroke="#000" stroke-width="2.2"/>
<line x1="295.3" x2="301.5" y1="344.60" y2="344.60" stroke="#000" stroke-width="2"/>
<text class="b" x="294.6" y="348.70" font-size="11.6" text-anchor="end">0.01</text>
<line x1="297.3" x2="301.5" y1="332.23" y2="332.23" stroke="#000" stroke-width="1.8"/>
<line x1="297.3" x2="301.5" y1="324.99" y2="324.99" stroke="#000" stroke-width="1.8"/>
<line x1="297.3" x2="301.5" y1="319.86" y2="319.86" stroke="#000" stroke-width="1.8"/>
<line x1="297.3" x2="301.5" y1="315.87" y2="315.87" stroke="#000" stroke-width="1.8"/>
<line x1="297.3" x2="301.5" y1="312.62" y2="312.62" stroke="#000" stroke-width="1.8"/>
<line x1="297.3" x2="301.5" y1="309.87" y2="309.87" stroke="#000" stroke-width="1.8"/>
<line x1="297.3" x2="301.5" y1="307.48" y2="307.48" stroke="#000" stroke-width="1.8"/>
<line x1="297.3" x2="301.5" y1="305.38" y2="305.38" stroke="#000" stroke-width="1.8"/>
<line x1="295.3" x2="301.5" y1="303.50" y2="303.50" stroke="#000" stroke-width="2"/>
<text class="b" x="294.6" y="307.60" font-size="11.6" text-anchor="end">0.1</text>
<line x1="297.3" x2="301.5" y1="291.13" y2="291.13" stroke="#000" stroke-width="1.8"/>
<line x1="297.3" x2="301.5" y1="283.89" y2="283.89" stroke="#000" stroke-width="1.8"/>
<line x1="297.3" x2="301.5" y1="278.76" y2="278.76" stroke="#000" stroke-width="1.8"/>
<line x1="297.3" x2="301.5" y1="274.77" y2="274.77" stroke="#000" stroke-width="1.8"/>
<line x1="297.3" x2="301.5" y1="271.52" y2="271.52" stroke="#000" stroke-width="1.8"/>
<line x1="297.3" x2="301.5" y1="268.77" y2="268.77" stroke="#000" stroke-width="1.8"/>
<line x1="297.3" x2="301.5" y1="266.38" y2="266.38" stroke="#000" stroke-width="1.8"/>
<line x1="297.3" x2="301.5" y1="264.28" y2="264.28" stroke="#000" stroke-width="1.8"/>
<line x1="295.3" x2="301.5" y1="262.40" y2="262.40" stroke="#000" stroke-width="2"/>
<text class="b" x="294.6" y="266.50" font-size="11.6" text-anchor="end">1</text>
<line x1="297.3" x2="301.5" y1="250.03" y2="250.03" stroke="#000" stroke-width="1.8"/>
<line x1="297.3" x2="301.5" y1="242.79" y2="242.79" stroke="#000" stroke-width="1.8"/>
<line x1="297.3" x2="301.5" y1="237.66" y2="237.66" stroke="#000" stroke-width="1.8"/>
<line x1="297.3" x2="301.5" y1="233.67" y2="233.67" stroke="#000" stroke-width="1.8"/>
<line x1="297.3" x2="301.5" y1="230.42" y2="230.42" stroke="#000" stroke-width="1.8"/>
<line x1="297.3" x2="301.5" y1="227.67" y2="227.67" stroke="#000" stroke-width="1.8"/>
<line x1="297.3" x2="301.5" y1="225.28" y2="225.28" stroke="#000" stroke-width="1.8"/>
<line x1="297.3" x2="301.5" y1="223.18" y2="223.18" stroke="#000" stroke-width="1.8"/>
<line x1="295.3" x2="301.5" y1="221.30" y2="221.30" stroke="#000" stroke-width="2"/>
<text class="b" x="294.6" y="225.40" font-size="11.6" text-anchor="end">10</text>
<line x1="297.3" x2="301.5" y1="208.93" y2="208.93" stroke="#000" stroke-width="1.8"/>
<line x1="297.3" x2="301.5" y1="201.69" y2="201.69" stroke="#000" stroke-width="1.8"/>
<line x1="297.3" x2="301.5" y1="196.56" y2="196.56" stroke="#000" stroke-width="1.8"/>
<line x1="297.3" x2="301.5" y1="192.57" y2="192.57" stroke="#000" stroke-width="1.8"/>
<line x1="297.3" x2="301.5" y1="189.32" y2="189.32" stroke="#000" stroke-width="1.8"/>
<line x1="297.3" x2="301.5" y1="186.57" y2="186.57" stroke="#000" stroke-width="1.8"/>
<line x1="297.3" x2="301.5" y1="184.18" y2="184.18" stroke="#000" stroke-width="1.8"/>
<line x1="297.3" x2="301.5" y1="182.08" y2="182.08" stroke="#000" stroke-width="1.8"/>
<line x1="295.3" x2="301.5" y1="180.20" y2="180.20" stroke="#000" stroke-width="2"/>
<text class="b" x="294.6" y="184.30" font-size="11.6" text-anchor="end">100</text>
<rect x="308.40" y="211.03" width="8.70" height="133.57" fill="#000" stroke="#000" stroke-width="1.8"/>
<line x1="312.75" x2="312.75" y1="203.11" y2="210.13" stroke="#000" stroke-width="1.4"/>
<line x1="309.95" x2="315.55" y1="203.11" y2="203.11" stroke="#000" stroke-width="1.4"/>
<rect x="321.60" y="298.65" width="9.00" height="45.95" fill="#fff" stroke="#000" stroke-width="1.8"/>
<line x1="326.10" x2="326.10" y1="291.76" y2="309.87" stroke="#000" stroke-width="1.4"/>
<line x1="323.30" x2="328.90" y1="291.76" y2="291.76" stroke="#000" stroke-width="1.4"/>
<line x1="323.30" x2="328.90" y1="309.87" y2="309.87" stroke="#000" stroke-width="1.4"/>
<rect x="344.15" y="202.30" width="8.70" height="142.30" fill="#000" stroke="#000" stroke-width="1.8"/>
<line x1="348.50" x2="348.50" y1="195.14" y2="201.40" stroke="#000" stroke-width="1.4"/>
<line x1="345.70" x2="351.30" y1="195.14" y2="195.14" stroke="#000" stroke-width="1.4"/>
<rect x="357.40" y="310.77" width="8.90" height="33.83" fill="#fff" stroke="#000" stroke-width="1.8"/>
<line x1="361.85" x2="361.85" y1="304.80" y2="318.98" stroke="#000" stroke-width="1.4"/>
<line x1="359.05" x2="364.65" y1="304.80" y2="304.80" stroke="#000" stroke-width="1.4"/>
<line x1="359.05" x2="364.65" y1="318.98" y2="318.98" stroke="#000" stroke-width="1.4"/>
<rect x="379.65" y="187.98" width="8.85" height="156.62" fill="#000" stroke="#000" stroke-width="1.8"/>
<line x1="384.07" x2="384.07" y1="185.10" y2="187.08" stroke="#000" stroke-width="1.4"/>
<line x1="381.27" x2="386.88" y1="185.10" y2="185.10" stroke="#000" stroke-width="1.4"/>
<rect x="393.00" y="308.16" width="9.10" height="36.44" fill="#fff" stroke="#000" stroke-width="1.8"/>
<line x1="397.55" x2="397.55" y1="303.50" y2="312.92" stroke="#000" stroke-width="1.4"/>
<line x1="394.75" x2="400.35" y1="303.50" y2="303.50" stroke="#000" stroke-width="1.4"/>
<line x1="394.75" x2="400.35" y1="312.92" y2="312.92" stroke="#000" stroke-width="1.4"/>
<rect x="415.15" y="237.26" width="8.70" height="107.34" fill="#000" stroke="#000" stroke-width="1.8"/>
<line x1="419.50" x2="419.50" y1="230.42" y2="236.36" stroke="#000" stroke-width="1.4"/>
<line x1="416.70" x2="422.30" y1="230.42" y2="230.42" stroke="#000" stroke-width="1.4"/>
<rect x="428.40" y="306.89" width="8.60" height="37.71" fill="#fff" stroke="#000" stroke-width="1.8"/>
<rect x="441.65" y="298.27" width="8.70" height="46.33" fill="#858585" stroke="#000" stroke-width="1.8"/>
<line x1="446.00" x2="446.00" y1="294.78" y2="298.82" stroke="#000" stroke-width="1.4"/>
<line x1="443.20" x2="448.80" y1="294.78" y2="294.78" stroke="#000" stroke-width="1.4"/>
<line x1="443.20" x2="448.80" y1="298.82" y2="298.82" stroke="#000" stroke-width="1.4"/>
<rect x="463.90" y="289.93" width="8.90" height="54.67" fill="#000" stroke="#000" stroke-width="1.8"/>
<line x1="468.35" x2="468.35" y1="281.66" y2="289.03" stroke="#000" stroke-width="1.4"/>
<line x1="465.55" x2="471.15" y1="281.66" y2="281.66" stroke="#000" stroke-width="1.4"/>
<rect x="477.65" y="304.40" width="8.45" height="40.20" fill="#fff" stroke="#000" stroke-width="1.8"/>
<line x1="481.88" x2="481.88" y1="302.13" y2="304.80" stroke="#000" stroke-width="1.4"/>
<line x1="479.07" x2="484.68" y1="302.13" y2="302.13" stroke="#000" stroke-width="1.4"/>
<line x1="479.07" x2="484.68" y1="304.80" y2="304.80" stroke="#000" stroke-width="1.4"/>
<rect x="490.90" y="299.44" width="8.50" height="45.16" fill="#858585" stroke="#000" stroke-width="1.8"/>
<line x1="495.15" x2="495.15" y1="294.78" y2="302.29" stroke="#000" stroke-width="1.4"/>
<line x1="492.35" x2="497.95" y1="294.78" y2="294.78" stroke="#000" stroke-width="1.4"/>
<line x1="492.35" x2="497.95" y1="302.29" y2="302.29" stroke="#000" stroke-width="1.4"/>
<line x1="319.4" x2="319.4" y1="344.6" y2="349.8" stroke="#000" stroke-width="2"/>
<text class="b" x="319.4" y="363.2" font-size="12" text-anchor="middle">#2</text>
<line x1="354.8" x2="354.8" y1="344.6" y2="349.8" stroke="#000" stroke-width="2"/>
<text class="b" x="354.8" y="363.2" font-size="12" text-anchor="middle">#3</text>
<line x1="390.4" x2="390.4" y1="344.6" y2="349.8" stroke="#000" stroke-width="2"/>
<text class="b" x="390.4" y="363.2" font-size="12" text-anchor="middle">#6</text>
<line x1="432.6" x2="432.6" y1="344.6" y2="349.8" stroke="#000" stroke-width="2"/>
<text class="b" x="432.6" y="363.2" font-size="12" text-anchor="middle">#13</text>
<line x1="481.6" x2="481.6" y1="344.6" y2="349.8" stroke="#000" stroke-width="2"/>
<text class="b" x="481.6" y="363.2" font-size="12" text-anchor="middle">#14</text>
<path d="M311.9,191.6 V185.9 H327.4 V275" fill="none" stroke="#000" stroke-width="2.1"/>
<path d="M347.2,191.6 V185.9 H362 V275" fill="none" stroke="#000" stroke-width="2.1"/>
<path d="M382,181.4 V175.8 H396.9 V275" fill="none" stroke="#000" stroke-width="2.1"/>
<path d="M417,217 V211.4 H430.9 V275" fill="none" stroke="#000" stroke-width="2.1"/>
<text class="b" x="321" y="184.1" font-size="18.5" text-anchor="middle">**</text>
<text class="b" x="356" y="184.1" font-size="18.5" text-anchor="middle">**</text>
<text class="b" x="390" y="176.6" font-size="18.5" text-anchor="middle">*</text>
<text class="b" x="426.3" y="210.3" font-size="18.5" text-anchor="middle">*</text>
<rect x="443.3" y="190.80" width="19.4" height="10.4" fill="#000" stroke="#000" stroke-width="2"/>
<text x="471.8" y="200.50" font-size="13.6">Vehicle</text>
<rect x="443.3" y="210.60" width="19.4" height="10.4" fill="#fff" stroke="#000" stroke-width="2"/>
<text x="471.8" y="220.30" font-size="13.6">KR</text>
<rect x="443.3" y="230.40" width="19.4" height="10.4" fill="#858585" stroke="#000" stroke-width="2"/>
<text x="471.8" y="240.10" font-size="13.6">PTL</text>
</svg></body></html>
